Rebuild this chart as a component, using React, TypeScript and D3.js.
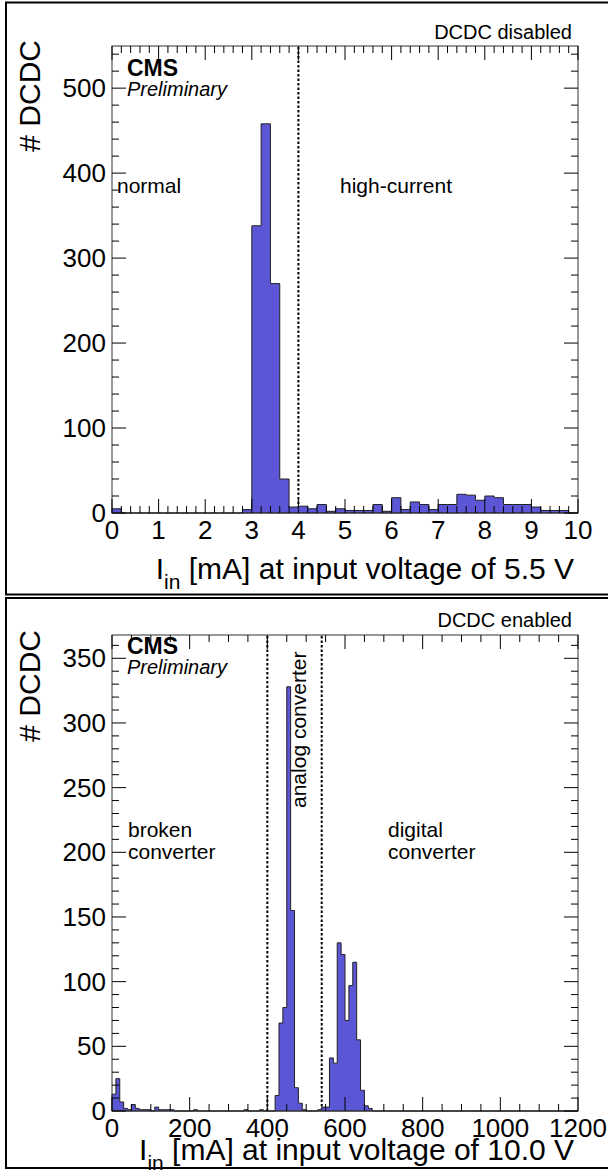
import React from "react";
import * as d3 from "d3";

// top histogram: 50 bins of 0.2 mA from 0 to 10 mA (DCDC disabled, 5.5 V)
const topCounts = [
  5, 0, 0, 0, 0, 0, 0, 0, 0, 0,
  0, 0, 0, 0, 4, 338, 458, 270, 40, 7,
  8, 5, 10, 2, 5, 3, 3, 3, 10, 2,
  18, 4, 13, 10, 4, 10, 10, 22, 21, 15,
  20, 18, 10, 10, 10, 7, 3, 3, 3, 0,
];
const topBinWidth = 0.2;

// bottom histogram: 120 bins of 10 mA from 0 to 1200 mA (DCDC enabled, 10 V)
const bottomCounts = [
  13, 25, 7, 2, 1, 5, 2, 1, 1, 1,
  0, 3, 1, 1, 1, 1, 0, 0, 0, 0,
  0, 1, 0, 0, 0, 0, 0, 0, 0, 0,
  0, 0, 0, 0, 1, 0, 0, 0, 1, 0,
  0, 0, 12, 68, 80, 328, 155, 18, 6, 1,
  0, 0, 0, 1, 3, 3, 41, 37, 130, 121,
  70, 97, 115, 55, 16, 4, 2, 0, 0, 0,
  0, 0, 0, 0, 0, 0, 0, 0, 0, 0,
  0, 0, 0, 0, 0, 0, 0, 0, 0, 0,
  0, 0, 0, 0, 0, 0, 0, 0, 0, 0,
  0, 0, 0, 0, 0, 0, 0, 0, 0, 0,
  0, 0, 0, 0, 0, 0, 0, 0, 0, 0,
];
const bottomBinWidth = 10;

const topXTicks = [0, 1, 2, 3, 4, 5, 6, 7, 8, 9, 10];
const topYTicks = [0, 100, 200, 300, 400, 500];
const bottomXTicks = [0, 200, 400, 600, 800, 1000, 1200];
const bottomYTicks = [0, 50, 100, 150, 200, 250, 300, 350];

const topCuts = [4];
const bottomCuts = [400, 540];

const FONT = "'Liberation Sans', Arial, Helvetica, sans-serif";
const FILL = "#5a56d6";

const L = 112;
const R = 578;

type Note = { lines: string[]; x: number; y: number; rotate?: boolean };

type PanelProps = {
  T: number;
  B: number;
  yMax: number;
  counts: number[];
  binWidth: number;
  xMax: number;
  xTicks: number[];
  xMinor: number;
  yTicks: number[];
  yMinor: number;
  cuts: number[];
  tag: string;
  tagY: number;
  titleY: number;
  yTitleY: number;
  cmsY: number;
  voltage: string;
  notes: Note[];
};

function Panel(p: PanelProps) {
  const { T, B } = p;
  const x = d3.scaleLinear().domain([0, p.xMax]).range([L, R]);
  const y = d3.scaleLinear().domain([0, p.yMax]).range([B, T]);

  // step outline of the histogram
  let d = `M${x(0)},${y(0)}`;
  p.counts.forEach((c, i) => {
    const x0 = x(i * p.binWidth);
    const x1 = x((i + 1) * p.binWidth);
    d += `L${x0},${y(c)}L${x1},${y(c)}`;
  });
  d += `L${x(p.counts.length * p.binWidth)},${y(0)}Z`;

  const xMinorTicks = d3.range(0, p.xMax + 1e-9, p.xMinor);
  const yMinorTicks = d3.range(0, p.yMax, p.yMinor);

  return (
    <g>
      {p.cuts.map((c) => (
        <line key={c} x1={x(c)} x2={x(c)} y1={y(0)} y2={T}
          stroke="#000" strokeWidth={2} strokeDasharray="2.5,2" />
      ))}
      <path d={d} fill={FILL} stroke="#222" strokeWidth={1} />

      <rect x={L} y={T} width={R - L} height={B - T} fill="none" stroke="#333" strokeWidth={1} />

      {xMinorTicks.map((v) => {
        const major = p.xTicks.some((t) => Math.abs(t - v) < 1e-6);
        const len = major ? 14 : 7;
        return (
          <g key={"x" + v} stroke="#000" strokeWidth={1}>
            <line x1={x(v)} x2={x(v)} y1={B} y2={B - len} />
            <line x1={x(v)} x2={x(v)} y1={T} y2={T + len} />
          </g>
        );
      })}
      {yMinorTicks.map((v) => {
        const major = p.yTicks.some((t) => Math.abs(t - v) < 1e-6);
        const len = major ? 14 : 7;
        return (
          <g key={"y" + v} stroke="#000" strokeWidth={1}>
            <line x1={L} x2={L + len} y1={y(v)} y2={y(v)} />
            <line x1={R} x2={R - len} y1={y(v)} y2={y(v)} />
          </g>
        );
      })}

      {p.xTicks.map((t) => (
        <text key={"xl" + t} x={x(t)} y={B + 26} textAnchor="middle" fontSize={26}>{t}</text>
      ))}
      {p.yTicks.map((t) => (
        <text key={"yl" + t} x={106} y={y(t) + 9} textAnchor="end" fontSize={26}>{t}</text>
      ))}

      <text x={40} y={p.yTitleY} transform={`rotate(-90,40,${p.yTitleY})`} textAnchor="end" fontSize={30}># DCDC</text>
      <text x={574} y={p.titleY} textAnchor="end" fontSize={30}>
        I<tspan dy={10} fontSize={21}>in</tspan>
        <tspan dy={-10}>{` [mA] at input voltage of ${p.voltage} V`}</tspan>
      </text>

      <text x={572} y={p.tagY} textAnchor="end" fontSize={20}>{p.tag}</text>
      <text x={127} y={p.cmsY} fontSize={23} fontWeight="bold">CMS</text>
      <text x={127} y={p.cmsY + 20} fontSize={20} fontStyle="italic">Preliminary</text>

      {p.notes.map((n, i) =>
        n.rotate ? (
          <text key={i} x={n.x} y={n.y} transform={`rotate(-90,${n.x},${n.y})`} fontSize={21}>{n.lines[0]}</text>
        ) : (
          n.lines.map((s, j) => (
            <text key={i + "-" + j} x={n.x} y={n.y + j * 22} fontSize={21}>{s}</text>
          ))
        )
      )}
    </g>
  );
}

export default function App() {
  return (
    <svg width={608} height={1171} style={{ position: "absolute", left: 0, top: 0 }}
      fontFamily={FONT} fill="#000">
      <rect width={608} height={1171} fill="#fff" />
      <rect x={6} y={2.5} width={604} height={592} fill="none" stroke="#000" strokeWidth={2} />
      <rect x={6} y={598} width={604} height={570} fill="none" stroke="#000" strokeWidth={2} />
      <Panel
        T={46}
        B={513}
        yMax={1.2 * (d3.max(topCounts) ?? 1)}
        counts={topCounts}
        binWidth={topBinWidth}
        xMax={10}
        xTicks={topXTicks}
        xMinor={0.2}
        yTicks={topYTicks}
        yMinor={20}
        cuts={topCuts}
        tag="DCDC disabled"
        tagY={39}
        titleY={579}
        yTitleY={40}
        cmsY={76}
        voltage="5.5"
        notes={[
          { lines: ["normal"], x: 117, y: 193 },
          { lines: ["high-current"], x: 340, y: 193 },
        ]}
      />
      <Panel
        T={635}
        B={1111}
        yMax={368}
        counts={bottomCounts}
        binWidth={bottomBinWidth}
        xMax={1200}
        xTicks={bottomXTicks}
        xMinor={50}
        yTicks={bottomYTicks}
        yMinor={10}
        cuts={bottomCuts}
        tag="DCDC enabled"
        tagY={627}
        titleY={1160}
        yTitleY={630}
        cmsY={654}
        voltage="10.0"
        notes={[
          { lines: ["broken", "converter"], x: 128, y: 837 },
          { lines: ["digital", "converter"], x: 388, y: 837 },
          { lines: ["analog converter"], x: 306, y: 808, rotate: true },
        ]}
      />
    </svg>
  );
}
